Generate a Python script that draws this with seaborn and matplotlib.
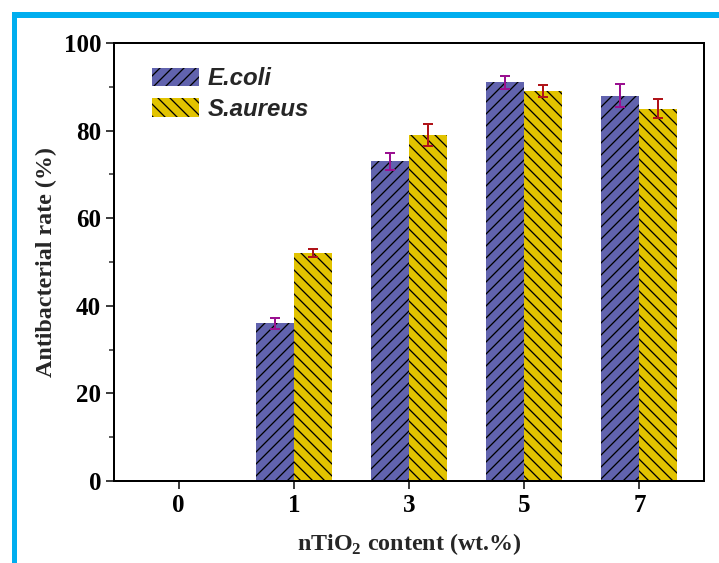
import numpy as np
import pandas as pd
import matplotlib
matplotlib.use("Agg")
import matplotlib.pyplot as plt
from matplotlib.patches import Rectangle
from matplotlib.ticker import MultipleLocator
import seaborn as sns

# nTiO2 loading (wt.%) and antibacterial rates per strain
contents = ["0", "1", "3", "5", "7"]
strains = ["E.coli", "S.aureus"]
ecoli_rate = [0, 36, 73, 91, 88]
ecoli_err = [0, 1.25, 2.0, 1.55, 2.7]
saureus_rate = [0, 52, 79, 89, 85]
saureus_err = [0, 0.95, 2.5, 1.3, 2.2]

df = pd.DataFrame({
    "content": contents * 2,
    "strain": [strains[0]] * len(contents) + [strains[1]] * len(contents),
    "rate": ecoli_rate + saureus_rate,
})

sns.set_theme(style="ticks")
plt.rcParams["font.family"] = ["Liberation Serif", "DejaVu Serif"]
plt.rcParams["mathtext.fontset"] = "custom"
plt.rcParams["mathtext.rm"] = "Liberation Serif"
plt.rcParams["mathtext.bf"] = "Liberation Serif:bold"
plt.rcParams["hatch.linewidth"] = 1.3

fill_colors = {"E.coli": "#6163AE", "S.aureus": "#E2C300"}
err_colors = {"E.coli": "#9A1190", "S.aureus": "#B0141A"}
hatches = {"E.coli": "//", "S.aureus": "\\\\"}

W, H = 719, 563
fig = plt.figure(figsize=(W / 72, H / 72), dpi=72)
ax = fig.add_axes([114 / W, 1 - 481 / H, 590 / W, 438 / H])

sns.barplot(data=df, x="content", y="rate", hue="strain", order=contents,
            hue_order=strains, palette=fill_colors, width=0.66, saturation=1,
            errorbar=None, ax=ax, legend=False)

errs = {"E.coli": ecoli_err, "S.aureus": saureus_err}
rates = {"E.coli": ecoli_rate, "S.aureus": saureus_rate}
for container, strain in zip(ax.containers, strains):
    for bar, val, err in zip(container, rates[strain], errs[strain]):
        bar.set_hatch(hatches[strain])
        bar.set_edgecolor("black")
        bar.set_linewidth(0)
        if val > 0:
            cx = bar.get_x() + bar.get_width() / 2
            ax.errorbar(cx, val, yerr=err, fmt="none", ecolor=err_colors[strain],
                        elinewidth=2, capsize=5, capthick=2, zorder=5)

# Legend
handles = [Rectangle((0, 0), 1, 1, facecolor=fill_colors[s], edgecolor="black",
                     linewidth=0, hatch=hatches[s]) for s in strains]
ax.legend(handles, strains, loc="upper left",
          bbox_to_anchor=(152 / W, 1 - 67 / H), bbox_transform=fig.transFigure,
          frameon=False, borderpad=0, borderaxespad=0,
          handlelength=1.96, handleheight=0.79, handletextpad=0.35,
          labelspacing=0.33,
          prop={"family": "Liberation Sans", "weight": "bold", "style": "italic",
                "size": 24})

ax.set_ylim(0, 100)
ax.set_xlim(-0.56, 4.56)
ax.yaxis.set_major_locator(MultipleLocator(20))
ax.yaxis.set_minor_locator(MultipleLocator(10))
ax.tick_params(axis="both", which="major", direction="out", length=8, width=1.5,
               labelsize=25, colors="black", pad=5)
ax.tick_params(axis="y", which="minor", direction="out", length=5, width=1.5)
for lbl in ax.get_xticklabels() + ax.get_yticklabels():
    lbl.set_fontweight("bold")
for sp in ax.spines.values():
    sp.set_visible(True)
    sp.set_linewidth(2)
    sp.set_color("black")

ax.set_xlabel(r"nTiO$_\mathbf{2}$ content (wt.%)", fontsize=24, fontweight="bold")
ax.set_ylabel("Antibacterial rate (%)", fontsize=24, fontweight="bold")
ax.xaxis.set_label_coords(0.5, -0.115)
ax.yaxis.set_label_coords(-0.0966, 0.5)

# Blue frame along the top and left edges
fig.add_artist(Rectangle((12 / W, 0), 5 / W, 1 - 12 / H, transform=fig.transFigure,
                         facecolor="#00AEEF", edgecolor="none"))
fig.add_artist(Rectangle((12 / W, 1 - 18 / H), 1 - 12 / W, 6 / H,
                         transform=fig.transFigure, facecolor="#00AEEF", edgecolor="none"))

fig.savefig("out.png", dpi=72)
